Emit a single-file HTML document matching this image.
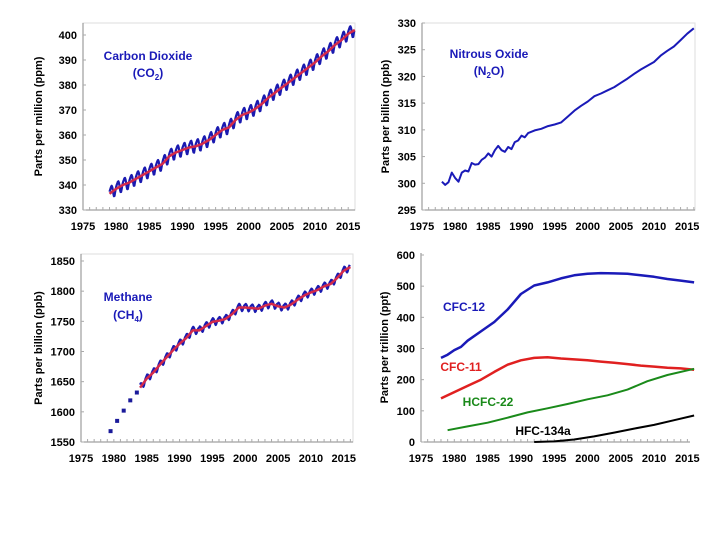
<!DOCTYPE html>
<html><head><meta charset="utf-8"><style>
body{margin:0;background:#fff;}
svg{display:block;font-family:"Liberation Sans",Arial,sans-serif;font-weight:bold;}
</style></head><body>
<svg id="c" width="720" height="540" viewBox="0 0 720 540"></svg>
<script>
const years5=[1975,1980,1985,1990,1995,2000,2005,2010,2015];
// CO2 annual trend (ppm)
const co2Years=[1979,1980,1981,1982,1983,1984,1985,1986,1987,1988,1989,1990,1991,1992,1993,1994,1995,1996,1997,1998,1999,2000,2001,2002,2003,2004,2005,2006,2007,2008,2009,2010,2011,2012,2013,2014,2015,2016];
const co2Trend=[336.5,338.5,340,341,342.5,344,345.5,347,348.5,351.5,353,354,355,355.5,356.5,358,360,362,363,366,368,369,370.5,372.5,375,377,379,381,383,385,387,389,391.5,393.5,396,398,400.5,402];
const co2Season=[0.8,1.4,1.9,2.4,2.5,1.8,0.5,-1.2,-2.3,-2.4,-1.3,-0.2];
const co2Ticks=[330,340,350,360,370,380,390,400];
// N2O (ppb)
const n2oYears=[1978,1978.5,1979,1979.5,1980,1980.5,1981,1981.5,1982,1982.5,1983,1983.5,1984,1984.5,1985,1985.5,1986,1986.5,1987,1987.5,1988,1988.5,1989,1989.5,1990,1990.5,1991,1992,1993,1994,1995,1996,1997,1998,1999,2000,2001,2002,2003,2004,2005,2006,2007,2008,2009,2010,2011,2012,2013,2014,2015,2016];
const n2oVals=[300.3,299.7,300.2,302,301,300.3,302,302.4,302.2,303.8,303.5,303.6,304.4,304.8,305.6,305.0,306.2,307,306.2,305.9,306.8,306.4,307.7,308.0,308.9,308.6,309.4,309.9,310.2,310.7,311,311.4,312.5,313.6,314.5,315.3,316.3,316.8,317.4,318,318.8,319.6,320.5,321.3,322,322.7,323.9,324.8,325.6,326.8,328,329];
const n2oTicks=[295,300,305,310,315,320,325,330];
// CH4 (ppb)
const ch4DotYears=[1979.5,1980.5,1981.5,1982.5,1983.5];
const ch4DotVals=[1568,1585,1602,1619,1632];
const ch4Years=[1984,1985,1986,1987,1988,1989,1990,1991,1992,1993,1994,1995,1996,1997,1998,1999,2000,2001,2002,2003,2004,2005,2006,2007,2008,2009,2010,2011,2012,2013,2014,2015,2016];
const ch4Trend=[1640,1655,1665,1678,1690,1702,1713,1722,1735,1735,1742,1749,1751,1754,1762,1773,1773,1772,1771,1776,1779,1775,1773,1778,1786,1793,1798,1802,1808,1812,1822,1834,1840];
const ch4Season=[5,6,5,3,0,-4,-6,-5,-2,1,3,4];
const ch4Ticks=[1550,1600,1650,1700,1750,1800,1850];
// Halocarbons (ppt)
const cfc12Years=[1978,1979,1980,1981,1982,1984,1986,1988,1990,1992,1994,1996,1998,2000,2002,2004,2006,2008,2010,2012,2014,2016];
const cfc12Vals=[270,280,295,305,325,355,385,425,475,502,512,525,535,540,542,541,540,535,530,523,518,512];
const cfc11Years=[1978,1980,1982,1984,1986,1988,1990,1992,1994,1996,1998,2000,2002,2004,2006,2008,2010,2012,2014,2016];
const cfc11Vals=[140,160,180,200,225,248,262,270,272,268,265,262,258,254,250,245,242,238,236,232];
const hcfc22Years=[1979,1982,1985,1988,1991,1994,1997,2000,2003,2006,2009,2012,2016];
const hcfc22Vals=[38,50,62,78,95,108,122,137,150,168,195,215,235];
const hfcYears=[1992,1995,1998,2001,2004,2007,2010,2013,2016];
const hfcVals=[0,2,8,18,30,43,55,70,85];
const haloTicks=[0,100,200,300,400,500,600];

const NS="http://www.w3.org/2000/svg";
const svg=document.getElementById('c');
function mk(tag,attrs,parent,name){const e=document.createElementNS(NS,tag);for(const k in attrs)e.setAttribute(k,attrs[k]);(parent||svg).appendChild(e);


return e;}

function panel(o){
  const g=mk('g',{},svg,o.name);
  const xs=y=>o.x0+(y-1975)*o.kx;
  const ys=v=>o.yb+(v-o.vmin)*(o.yt-o.yb)/(o.vmax-o.vmin);
  if(o.frame){mk('rect',{x:o.x0,y:o.top,width:o.right-o.x0,height:o.yb-o.top,fill:'none',stroke:'#ddd','stroke-width':1},g,'plot-frame');}
  mk('line',{x1:o.x0,y1:o.top,x2:o.x0,y2:o.yb,stroke:'#888','stroke-width':1},g,'y-axis');
  mk('line',{x1:o.x0,y1:o.yb,x2:o.right,y2:o.yb,stroke:'#888','stroke-width':1},g,'x-axis');
  for(let y=1976;y<=2017;y++){if(xs(y)>o.right-1)break;mk('line',{x1:xs(y),y1:o.yb,x2:xs(y),y2:o.yb-3,stroke:'#aaa'},g,'x-minor-tick');}
  years5.forEach(y=>{const t=mk('text',{x:xs(y),y:o.yb+20,'text-anchor':'middle','font-size':11,fill:'#000'},g,'x-tick-label');t.textContent=y;});
  o.ticks.forEach(v=>{const t=mk('text',{x:o.x0-6,y:ys(v)+4,'text-anchor':'end','font-size':11,fill:'#000'},g,'y-tick-label');t.textContent=v;
    mk('line',{x1:o.x0,y1:ys(v),x2:o.x0+3,y2:ys(v),stroke:'#aaa'},g,'y-tick');});
  const cy=(o.top+o.yb)/2;
  const yl=mk('text',{x:o.lx,y:cy,'text-anchor':'middle','font-size':11,transform:`rotate(-90 ${o.lx} ${cy})`,fill:'#000'},g,'y-axis-title');yl.textContent=o.ylabel;
  return {g,xs,ys};
}
function line(p,xsArr,vals,color,w,name){
  const d=xsArr.map((x,i)=>(i?'L':'M')+p.xs(x).toFixed(1)+' '+p.ys(vals[i]).toFixed(1)).join('');
  mk('path',{d,fill:'none',stroke:color,'stroke-width':w,'stroke-linejoin':'round'},p.g,name);
}
function seasonal(p,yrs,trend,season,color,name){
  const X=[],V=[];
  for(let i=0;i<yrs.length-1;i++){for(let m=0;m<12;m++){X.push(yrs[i]+m/12);V.push(trend[i]+(trend[i+1]-trend[i])*m/12+season[m]);}}
  line(p,X,V,color,2.2,name);
}
function label(p,x,y,txt,color,name,sub){
  const t=mk('text',{x,y,'text-anchor':'middle','font-size':12,fill:color},p.g,name);
  if(sub){t.textContent=txt[0];const s=mk('tspan',{'font-size':8,dy:3},t,'subscript');s.textContent=sub;const r=mk('tspan',{dy:-3},t,'label-end');r.textContent=txt[1];}
  else t.textContent=txt;
}

// CO2
const p1=panel({name:'co2-panel',x0:83,kx:6.63,right:355,top:23,yb:210,yt:35,vmin:330,vmax:400,ticks:co2Ticks,lx:42,ylabel:'Parts per million (ppm)',frame:true});
seasonal(p1,co2Years,co2Trend,co2Season,'#1a1ab0','co2-monthly-line');
line(p1,co2Years,co2Trend,'#d42a4a',2.5,'co2-trend-line');
label(p1,148,60,'Carbon Dioxide','#1a1ab8','co2-title');
label(p1,148,77,['(CO',')'],'#1a1ab8','co2-formula','2');

// N2O
const p2=panel({name:'n2o-panel',x0:422,kx:6.63,right:695,top:23,yb:210,yt:23,vmin:295,vmax:330,ticks:n2oTicks,lx:389,ylabel:'Parts per billion (ppb)',frame:true});
line(p2,n2oYears,n2oVals,'#1a1ab8',2,'n2o-line');
label(p2,489,58,'Nitrous Oxide','#1a1ab8','n2o-title');
label(p2,489,75,['(N','O)'],'#1a1ab8','n2o-formula','2');

// CH4
const p3=panel({name:'ch4-panel',x0:81,kx:6.57,right:353,top:254,yb:442,yt:261,vmin:1550,vmax:1850,ticks:ch4Ticks,lx:42,ylabel:'Parts per billion (ppb)',frame:true});
seasonal(p3,ch4Years,ch4Trend,ch4Season,'#1a1ab0','ch4-monthly-line');
line(p3,ch4Years,ch4Trend,'#d42a4a',2.5,'ch4-trend-line');
ch4DotYears.forEach((y,i)=>{mk('rect',{x:p3.xs(y)-2,y:p3.ys(ch4DotVals[i])-2,width:4,height:4,fill:'#1a1a9a'},p3.g,'ch4-early-point');});
label(p3,128,301,'Methane','#1a1ab8','ch4-title');
label(p3,128,319,['(CH',')'],'#1a1ab8','ch4-formula','4');

// Halocarbons
const p4=panel({name:'halocarbon-panel',x0:421,kx:6.66,right:690,top:253,yb:442,yt:255,vmin:0,vmax:600,ticks:haloTicks,lx:388,ylabel:'Parts per trillion (ppt)',frame:false});
line(p4,cfc12Years,cfc12Vals,'#1a1ab8',2.5,'cfc12-line');
line(p4,cfc11Years,cfc11Vals,'#e02020',2.5,'cfc11-line');
line(p4,hcfc22Years,hcfc22Vals,'#1a8a1a',2,'hcfc22-line');
line(p4,hfcYears,hfcVals,'#000',2,'hfc134a-line');
label(p4,464,311,'CFC-12','#1a1ab8','cfc12-label');
label(p4,461,371,'CFC-11','#e02020','cfc11-label');
label(p4,488,406,'HCFC-22','#1a8a1a','hcfc22-label');
label(p4,543,435,'HFC-134a','#000','hfc134a-label');
</script>
</body></html>
